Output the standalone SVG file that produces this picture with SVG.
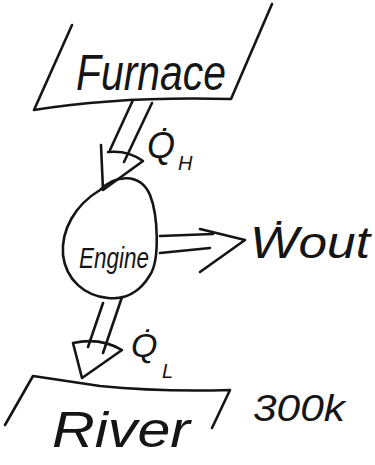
<svg xmlns="http://www.w3.org/2000/svg" width="375" height="465" viewBox="0 0 375 465">
  <style>
    .ink { fill: none; stroke: #151515; stroke-width: 2.6; stroke-linecap: round; stroke-linejoin: round; }
    .hand { font-family: "Liberation Sans", "DejaVu Sans", sans-serif; font-style: italic; fill: #151515; }
  </style>
  <rect width="375" height="465" fill="#ffffff"/>

  <!-- Hot reservoir -->
  <g id="furnace">
    <path class="ink" d="M72,25 L34,110 Q120,96 231,99 L272,4"/>
    <text class="hand" x="76" y="90" font-size="50" textLength="150" lengthAdjust="spacingAndGlyphs">Furnace</text>
  </g>

  <!-- Heat engine -->
  <g id="engine">
    <path class="ink" d="M100,190 C115,175 140,172 150,195 C158,215 160,260 150,275 C140,292 125,300 108,298 C85,296 66,280 63,255 C61,230 75,205 100,190 Z"/>
    <text class="hand" x="79" y="268" font-size="30" textLength="70" lengthAdjust="spacingAndGlyphs">Engine</text>
  </g>

  <!-- Cold reservoir -->
  <g id="river">
    <path class="ink" d="M5,425 L33,376 Q60,380 100,386 Q160,392 230,390 L212,428"/>
    <text class="hand" x="52" y="447" font-size="50" textLength="138" lengthAdjust="spacingAndGlyphs">River</text>
    <text class="hand" x="253" y="421" font-size="36" textLength="92" lengthAdjust="spacingAndGlyphs">300k</text>
  </g>

  <!-- Energy flows -->
  <g id="connectors">
    <g id="heat-in">
      <path class="ink" d="M133,100 L110,150"/>
      <path class="ink" d="M152,103 L124,162"/>
      <path class="ink" d="M101,145 L103,190 L143,161 Q128,150 108,152"/>
    </g>
    <g id="work-out">
      <path class="ink" d="M160,236 L213,234"/>
      <path class="ink" d="M160,253 L210,248"/>
      <path class="ink" d="M200,229 L245,240 L200,272"/>
    </g>
    <g id="heat-out">
      <path class="ink" d="M103,303 L88,347"/>
      <path class="ink" d="M122,297 L103,353"/>
      <path class="ink" d="M73,343 L82,378 L122,350 Q100,337 73,343"/>
    </g>
  </g>

  <!-- Flow labels -->
  <g id="label-qh">
    <text class="hand" x="147" y="158" font-size="36">Q̇</text>
    <text class="hand" x="178" y="170" font-size="20">H</text>
  </g>
  <g id="label-wout">
    <text class="hand" x="250" y="258" font-size="44" textLength="120" lengthAdjust="spacingAndGlyphs">Ẇout</text>
  </g>
  <g id="label-ql">
    <text class="hand" x="131" y="357" font-size="34">Q̇</text>
    <text class="hand" x="162" y="378" font-size="20">L</text>
  </g>
</svg>
